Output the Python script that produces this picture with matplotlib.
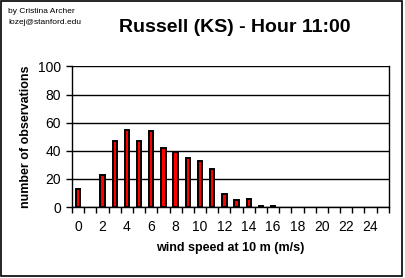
import numpy as np
import matplotlib.pyplot as plt

plt.rcParams['font.family'] = ['Liberation Sans', 'DejaVu Sans']

speeds = list(range(26))
counts = [13, 0, 23, 47, 55, 47, 54, 42, 39, 35, 33, 27, 9, 5, 6, 1, 1,
          0, 0, 0, 0, 0, 0, 0, 0, 0]
tick_labels = [str(s) if s % 2 == 0 and s < 25 else '' for s in speeds]

fig = plt.figure(figsize=(4.05, 2.78), dpi=100)
ax = fig.add_axes([0.178, 0.255, 0.782, 0.506])

# empty classes get no outline
lws = [1.4 if c > 0 else 0 for c in counts]
ax.bar(speeds, counts, width=0.36, color='#ff0000', edgecolor='black', linewidth=lws, zorder=3)

ax.set_xlim(-0.5, 25.5)
ax.set_ylim(0, 100)
ax.set_yticks([0, 20, 40, 60, 80, 100])
ax.yaxis.grid(True, color='black', linewidth=1.0)
ax.set_axisbelow(True)

# ticks between categories, labels at category centres
ax.set_xticks(np.arange(-0.5, 26, 1))
ax.set_xticklabels([])
ax.set_xticks(speeds, minor=True)
ax.set_xticklabels(tick_labels, minor=True)
ax.tick_params(axis='x', which='minor', length=0, pad=9, labelsize=10)
ax.tick_params(axis='x', which='major', direction='out', length=4, width=1, color='black')
ax.tick_params(axis='y', direction='out', length=4, width=1, labelsize=10, pad=4)

ax.spines['top'].set_visible(False)
for s in ['left', 'bottom', 'right']:
    ax.spines[s].set_linewidth(1.0)

ax.set_xlabel('wind speed at 10 m (m/s)', fontsize=9, fontweight='bold', labelpad=6)
ax.set_ylabel('number of observations', fontsize=9, fontweight='bold', labelpad=4)

fig.text(0.58, 0.9, 'Russell (KS) - Hour 11:00', fontsize=14, fontweight='bold', ha='center', va='center')
fig.text(0.02, 0.958, 'by Cristina Archer', fontsize=6, ha='left', va='center')
fig.text(0.02, 0.918, 'lozej@stanford.edu', fontsize=6, ha='left', va='center')

border = plt.Rectangle((0.002, 0.006), 0.991, 0.99, transform=fig.transFigure,
                       fill=False, edgecolor='black', linewidth=1.2)
fig.patches.append(border)

fig.savefig('out.png', dpi=100)
